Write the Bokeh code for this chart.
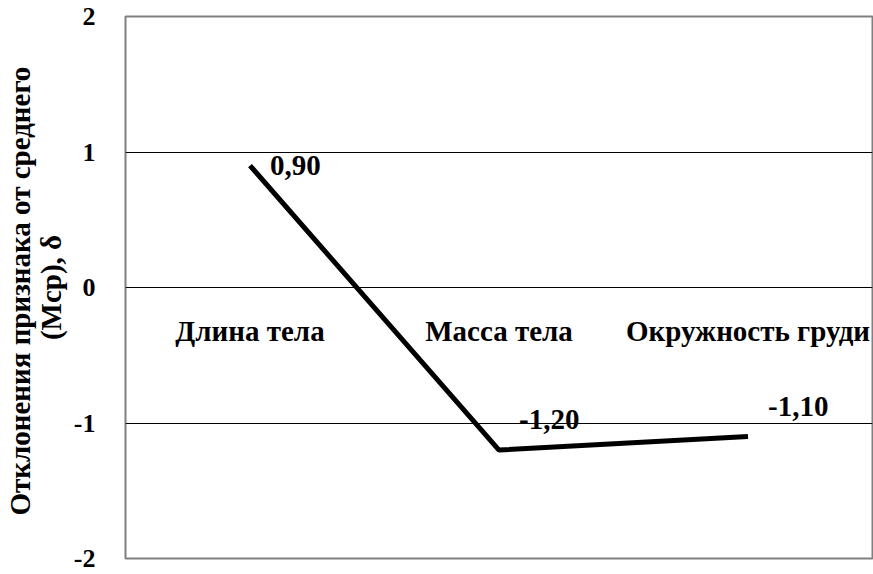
from bokeh.plotting import figure
from bokeh.models import FactorRange, FixedTicker, ColumnDataSource
from bokeh.core.properties import value
from bokeh.embed import file_html
from bokeh.resources import INLINE

categories = ["Длина тела", "Масса тела", "Окружность груди"]
values = [0.90, -1.20, -1.10]
value_labels = ["0,90", "-1,20", "-1,10"]
y_ticks = [-2, -1, 0, 1, 2]
y_tick_labels = ["-2", "-1", "0", "1", "2"]
y_title = "Отклонения  признака от среднего\n(Мср), δ"

FONT = "Liberation Serif"
FS = "29px"
TICK_FS = "26px"

p = figure(width=873, height=574, output_backend="svg", toolbar_location=None,
           x_range=FactorRange(factors=categories, range_padding=0),
           y_range=(y_ticks[0], y_ticks[-1]),
           min_border_left=125, min_border_right=1, min_border_top=16, min_border_bottom=16)

p.outline_line_color = "#808080"
p.outline_line_width = 2
p.background_fill_color = "white"
p.border_fill_color = "white"

p.xaxis.visible = False
p.xgrid.visible = False

p.yaxis.ticker = FixedTicker(ticks=y_ticks)
p.yaxis.major_label_overrides = {t: s for t, s in zip(y_ticks, y_tick_labels)}
p.ygrid.ticker = FixedTicker(ticks=y_ticks)
p.ygrid.grid_line_color = "black"
p.ygrid.grid_line_width = 1
p.yaxis.axis_line_color = None
p.yaxis.major_tick_line_color = None
p.yaxis.minor_tick_line_color = None
p.yaxis.major_label_text_font = FONT
p.yaxis.major_label_text_font_style = "bold"
p.yaxis.major_label_text_font_size = TICK_FS
p.yaxis.major_label_text_color = "black"
p.yaxis.major_label_standoff = 24
p.yaxis.axis_label = y_title
p.yaxis.axis_label_text_font = FONT
p.yaxis.axis_label_text_font_style = "bold"
p.yaxis.axis_label_text_font_size = FS
p.yaxis.axis_label_text_color = "black"
p.yaxis.axis_label_text_line_height = 0.95
p.yaxis.axis_label_standoff = 4

src = ColumnDataSource(dict(x=categories, y=values, lab=value_labels,
                            zero=[0] * len(categories),
                            yoff=[0, -31, -30]))

p.line(x="x", y="y", source=src, line_color="black", line_width=5, line_cap="butt")

p.text(x="x", y="zero", text="x", source=src, text_font=value(FONT),
       text_font_style="bold", text_font_size=FS, text_color="black",
       text_align="center", text_baseline="middle", y_offset=43)

p.text(x="x", y="y", text="lab", source=src, text_font=value(FONT),
       text_font_style="bold", text_font_size=FS, text_color="black",
       text_align="left", text_baseline="middle", x_offset=20, y_offset="yoff")

open("out.html", "w").write(file_html(p, INLINE))
